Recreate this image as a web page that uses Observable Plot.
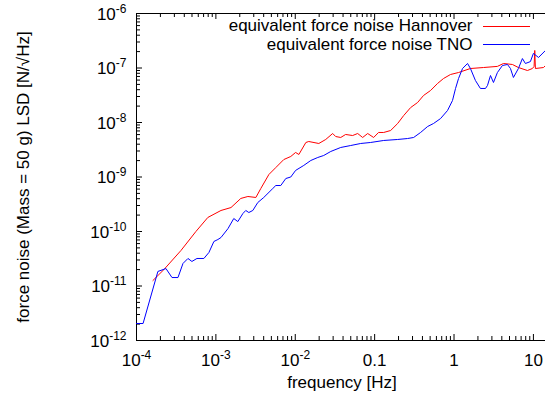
<!DOCTYPE html>
<html><head><meta charset="utf-8">
<script src="https://cdn.jsdelivr.net/npm/d3@7"></script>
<script src="https://cdn.jsdelivr.net/npm/@observablehq/plot@0.6"></script>
<style>
html,body{margin:0;padding:0;background:#fff;}
svg{display:block;}
</style></head><body><div id="chart"></div>
<script>
// ---- data ----
const tnoFreq = [1.0e-4,1.21e-4,1.86e-4,2.35e-4,2.80e-4,3.33e-4,3.85e-4,4.45e-4,4.99e-4,5.77e-4,7.06e-4,8.17e-4,9.44e-4,1.06e-3,1.16e-3,
  1.42e-3,1.68e-3,1.89e-3,2.19e-3,2.38e-3,2.60e-3,2.92e-3,3.37e-3,4.01e-3,5.21e-3,5.69e-3,6.57e-3,7.60e-3,8.78e-3,1.01e-2,
  1.28e-2,1.57e-2,1.92e-2,2.28e-2,2.80e-2,3.74e-2,4.99e-2,6.67e-2,8.91e-2,
  0.130,0.195,0.260,0.310,0.379,0.465,0.552,0.676,0.828,0.957,1.045,1.14,
  1.28,1.48,1.61,1.86,2.15,2.49,2.64,2.88,3.14,3.52,4.07,4.71,5.14,5.60,6.47,7.27,7.93,9.16,10.0,11.6,14.2];
const tnoLSD = [2.05e-12,2.05e-12,1.85e-11,2.09e-11,1.43e-11,1.43e-11,2.59e-11,3.20e-11,2.82e-11,3.20e-11,3.20e-11,4.12e-11,6.56e-11,7.13e-11,7.76e-11,
  1.13e-10,1.73e-10,1.52e-10,2.14e-10,2.43e-10,2.23e-10,2.43e-10,3.40e-10,4.21e-10,6.15e-10,6.98e-10,6.98e-10,9.38e-10,1.0e-9,1.32e-9,
  1.63e-9,2.01e-9,2.28e-9,2.48e-9,2.94e-9,3.48e-9,3.78e-9,4.12e-9,4.30e-9,
  4.68e-9,4.88e-9,5.08e-9,5.31e-9,6.56e-9,8.45e-9,9.59e-9,1.18e-8,1.66e-8,2.53e-8,4.21e-8,6.41e-8,
  9.79e-8,1.21e-7,9.79e-8,5.90e-8,4.21e-8,4.21e-8,4.78e-8,7.28e-8,5.42e-8,8.26e-8,1.11e-7,1.16e-7,9.79e-8,6.70e-8,9.79e-8,1.49e-7,1.21e-7,1.31e-7,1.85e-7,1.56e-7,2.10e-7];
const hanFreq = [1.61e-4,2.22e-4,3.63e-4,5.60e-4,7.92e-4,1.16e-3,1.55e-3,2.06e-3,2.53e-3,3.19e-3,
  3.68e-3,4.65e-3,5.69e-3,7.17e-3,8.78e-3,1.01e-2,1.11e-2,1.36e-2,1.48e-2,1.98e-2,
  2.42e-2,2.96e-2,3.23e-2,3.74e-2,4.31e-2,5.28e-2,6.11e-2,7.06e-2,8.17e-2,9.71e-2,
  0.112,0.130,0.159,0.195,0.232,0.284,0.348,0.413,0.506,0.620,
  0.737,0.903,1.14,1.61,2.35,3.52,4.20,5.44,6.47,8.41,
  9.71,10.2,10.4,10.6,13.4,14.2];
const hanLSD = [1.26e-11,2.01e-11,4.48e-11,1.00e-10,1.81e-10,2.43e-10,2.75e-10,4.04e-10,4.39e-10,4.21e-10,
  6.15e-10,1.11e-9,1.49e-9,2.09e-9,2.38e-9,2.82e-9,2.59e-9,4.30e-9,4.48e-9,4.12e-9,
  4.88e-9,6.28e-9,5.53e-9,5.31e-9,6.03e-9,5.77e-9,6.28e-9,5.31e-9,6.28e-9,5.31e-9,
  6.56e-9,6.56e-9,7.13e-9,9.59e-9,1.34e-8,1.88e-8,2.33e-8,3.13e-8,3.86e-8,5.20e-8,
  6.41e-8,7.60e-8,8.26e-8,9.79e-8,1.02e-7,1.07e-7,1.21e-7,1.16e-7,1.02e-7,8.99e-8,
  9.79e-8,1.07e-7,2.10e-7,9.79e-8,1.02e-7,1.11e-7];
const seriesNames = ["equivalent force noise Hannover", "equivalent force noise TNO"];
const seriesColors = ["#ff0000", "#0000ff"];
const xTicks = [1e-4, 1e-3, 1e-2, 0.1, 1, 10];
const xTickLabels = ["10^-4", "10^-3", "10^-2", "0.1", "1", "10"];
const yTicks = [1e-12, 1e-11, 1e-10, 1e-9, 1e-8, 1e-7, 1e-6];
const yTickLabels = ["10^-12", "10^-11", "10^-10", "10^-9", "10^-8", "10^-7", "10^-6"];
const xLabel = "frequency [Hz]";
const yLabel = "force noise (Mass = 50 g) LSD [N/\u221AHz]";

// ---- layout ----
const W = 545, H = 398, mL = 136, mR = 0, mT = 13, mB = 58;
const plotW = W - mL - mR, plotH = H - mT - mB;
const xDomain = [1e-4, 14.2], yDomain = [1e-12, 1e-6];
const FS = 17, LFS = 17;
const legendTextRows = [26.5, 45.5];
const legendLineRows = [26.5, 44.5];
const majorLen = 6, minorLen = 4;
const minorOf = (ticks, dom) => ticks.flatMap(t => [2,3,4,5,6,7,8,9].map(k => t * k)).filter(v => v >= dom[0] && v <= dom[1] * 1.0001);
const xMinor = minorOf(xTicks, xDomain);
const yMinor = minorOf(yTicks, yDomain);

const hanData = hanFreq.map((f, i) => ({f, v: hanLSD[i]}));
const tnoData = tnoFreq.map((f, i) => ({f, v: tnoLSD[i]}));

const svg = Plot.plot({
  width: W, height: H,
  marginLeft: mL, marginRight: mR, marginTop: mT, marginBottom: mB,
  x: {type: "log", domain: xDomain, axis: null},
  y: {type: "log", domain: yDomain, axis: null},
  style: {fontFamily: "'Liberation Sans', Arial, Helvetica, sans-serif", fontSize: FS + "px", background: "#fff", color: "#000"},
  marks: [
    // frame (left, bottom, top)
    Plot.ruleX([xDomain[0]], {stroke: "#000", strokeWidth: 1}),
    Plot.ruleY([yDomain[0]], {stroke: "#000", strokeWidth: 1}),
    Plot.ruleY([yDomain[1]], {stroke: "#000", strokeWidth: 1}),
    // ticks: bottom (inward), top (inward), left (inward)
    Plot.tickX(xTicks, {x: d => d, insetTop: plotH - majorLen, stroke: "#000"}),
    Plot.tickX(xMinor, {x: d => d, insetTop: plotH - minorLen, stroke: "#000"}),
    Plot.tickX(xTicks, {x: d => d, insetBottom: plotH - majorLen, stroke: "#000"}),
    Plot.tickX(xMinor, {x: d => d, insetBottom: plotH - minorLen, stroke: "#000"}),
    Plot.tickY(yTicks, {y: d => d, insetRight: plotW - majorLen, stroke: "#000"}),
    Plot.tickY(yMinor, {y: d => d, insetRight: plotW - minorLen, stroke: "#000"}),
    // tick labels
    Plot.text(xTicks, {x: d => d, text: (d, i) => xTickLabels[i], frameAnchor: "bottom", textAnchor: "middle", lineAnchor: "middle", dy: 20.5, fontSize: FS, fill: "#000"}),
    Plot.text(yTicks, {y: d => d, text: (d, i) => yTickLabels[i], frameAnchor: "left", textAnchor: "end", lineAnchor: "middle", dx: -10, dy: 1, fontSize: FS, fill: "#000"}),
    // axis titles
    Plot.text([xLabel], {frameAnchor: "bottom", textAnchor: "middle", lineAnchor: "middle", dx: 1, dy: 42.5, fontSize: FS, fill: "#000"}),
    Plot.text([yLabel], {frameAnchor: "left", textAnchor: "middle", rotate: -90, lineAnchor: "middle", dx: -113, fontSize: FS, fill: "#000"}),
    // legend text
    Plot.text([seriesNames[0]], {frameAnchor: "top-right", textAnchor: "end", lineAnchor: "middle", dx: -73, dy: legendTextRows[0] - 1 - mT, fontSize: LFS, fill: "#000"}),
    Plot.text([seriesNames[1]], {frameAnchor: "top-right", textAnchor: "end", lineAnchor: "middle", dx: -73, dy: legendTextRows[1] - 1 - mT, fontSize: LFS, fill: "#000"}),
    // data
    Plot.line(hanData, {x: "f", y: "v", stroke: seriesColors[0], strokeWidth: 1}),
    Plot.line(tnoData, {x: "f", y: "v", stroke: seriesColors[1], strokeWidth: 1})
  ]
});

// superscript exponents in tick labels
svg.querySelectorAll("text").forEach(t => {
  const m = t.textContent.match(/^10\^(-?\d+)$/);
  if (m) {
    t.textContent = "";
    const ns = "http://www.w3.org/2000/svg";
    const base = document.createElementNS(ns, "tspan");
    base.textContent = "10";
    const sup = document.createElementNS(ns, "tspan");
    sup.textContent = m[1];
    sup.setAttribute("font-size", "12");
    sup.setAttribute("dy", "-7");
    t.appendChild(base);
    t.appendChild(sup);
  }
});

// legend line samples
const lg = d3.select(svg).append("g");
legendLineRows.forEach((yy, i) => {
  lg.append("line").attr("x1", 483).attr("x2", 530).attr("y1", yy).attr("y2", yy)
    .attr("stroke", seriesColors[i]).attr("stroke-width", 1);
});

document.getElementById("chart").appendChild(svg);
</script>
</body></html>
